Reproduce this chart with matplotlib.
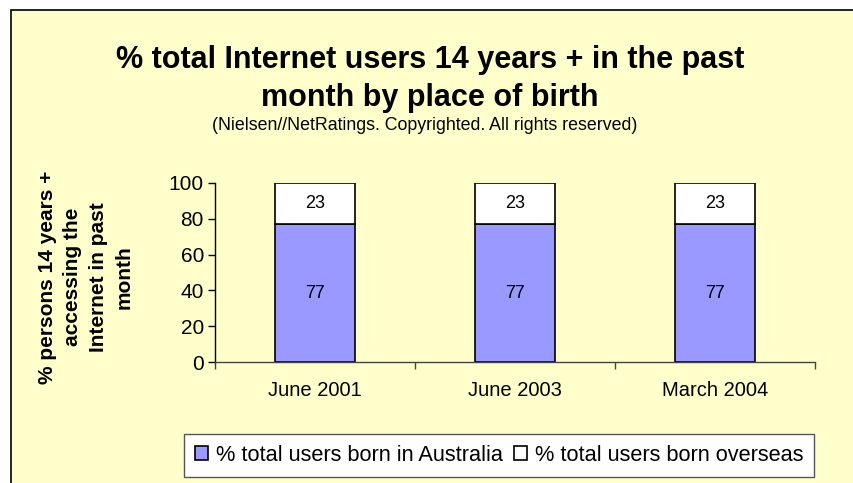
import matplotlib
matplotlib.use("Agg")
import matplotlib.pyplot as plt
import numpy as np
from matplotlib.patches import Rectangle, Patch

plt.rcParams['font.family'] = ['Liberation Sans', 'DejaVu Sans']

periods = ['June 2001', 'June 2003', 'March 2004']
born_australia = [77, 77, 77]
born_overseas = [23, 23, 23]
series_names = ['% total users born in Australia', '% total users born overseas']

BG = '#FFFFCC'
BLUE = '#9999FF'

fig = plt.figure(figsize=(8.54, 4.83), dpi=100)
fig.patch.set_facecolor('white')

# pale yellow chart area with a thin black border, kept behind the axes
frame = Rectangle((11 / 854, -0.1), 1.2, 1.1 - 10 / 483,
                  transform=fig.transFigure, facecolor=BG,
                  edgecolor='black', linewidth=1.2, zorder=-10)
fig.patches.append(frame)

ax = fig.add_axes([215 / 854, 1 - 362 / 483, 600 / 854, 179 / 483])
ax.patch.set_alpha(0)

x = np.arange(len(periods))
ax.bar(x, born_australia, width=0.4, color=BLUE, edgecolor='black', linewidth=1.2)
ax.bar(x, born_overseas, width=0.4, bottom=born_australia, color='white',
       edgecolor='black', linewidth=1.2)

for xi, a, o in zip(x, born_australia, born_overseas):
    ax.text(xi, a / 2, f'{a}', ha='center', va='center', fontsize=13)
    ax.text(xi, a + o / 2, f'{o}', ha='center', va='center', fontsize=13)

ax.set_xlim(-0.5, 2.5)
ax.set_ylim(0, 100)
ax.set_yticks(np.arange(0, 101, 20))
ax.set_xticks(x)
ax.set_xticklabels(periods)
ax.set_xticks(np.arange(-0.5, 2.6, 1), minor=True)
ax.tick_params(axis='x', which='major', length=0, pad=14, labelsize=14.5)
ax.tick_params(axis='x', which='minor', length=5, width=1, color='#444444')
ax.tick_params(axis='y', length=5, width=1, pad=3, labelsize=15)
for side in ['top', 'right']:
    ax.spines[side].set_visible(False)
ax.spines['left'].set_linewidth(1)
ax.spines['bottom'].set_linewidth(1)
ax.spines['bottom'].set_color('#444444')

ax.set_ylabel('% persons 14 years +\naccessing the\nInternet in past\nmonth',
              fontsize=15, fontweight='bold', linespacing=1.45)
ax.yaxis.set_label_coords((134 - 215) / 600, (362 - 277) / 179)

fig.text(430 / 854, 1 - 60 / 483, '% total Internet users 14 years + in the past',
         ha='center', va='center', fontsize=22, fontweight='bold')
fig.text(430 / 854, 1 - 98 / 483, 'month by place of birth',
         ha='center', va='center', fontsize=22, fontweight='bold')
fig.text(425 / 854, 1 - 125 / 483, '(Nielsen//NetRatings. Copyrighted. All rights reserved)',
         ha='center', va='center', fontsize=12.8)

handles = [Patch(facecolor=BLUE, edgecolor='black', linewidth=1.2),
           Patch(facecolor='white', edgecolor='black', linewidth=1.2)]
leg = fig.legend(handles, series_names, loc='center', ncol=2,
                 bbox_to_anchor=(499 / 854, 1 - 455.5 / 483),
                 fontsize=15.7, frameon=True, fancybox=False, shadow=False,
                 handlelength=0.6, handleheight=0.6, handletextpad=0.37,
                 columnspacing=0.5, borderpad=0.5, borderaxespad=0)
leg.get_frame().set_edgecolor('#555555')
leg.get_frame().set_linewidth(1)
leg.get_frame().set_facecolor('white')
leg.get_frame().set_alpha(1)

fig.savefig('out.png', dpi=100, facecolor=fig.get_facecolor())
